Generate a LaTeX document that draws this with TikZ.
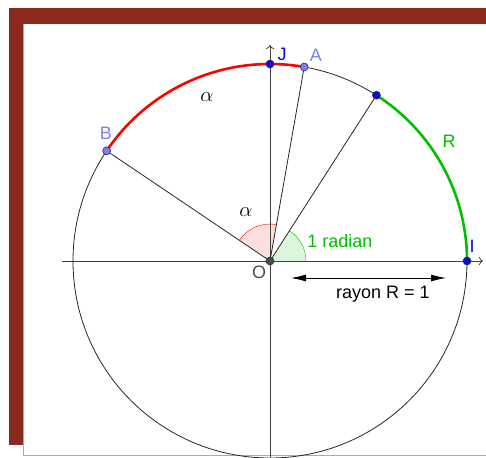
\documentclass[tikz,border=0pt]{standalone}
\usepackage{fontspec}
\setmainfont{Liberation Sans}
\usetikzlibrary{arrows.meta}
\definecolor{cadre}{RGB}{140,40,30}
\definecolor{bleupt}{RGB}{10,10,220}
\definecolor{bleuclair}{RGB}{125,125,250}
\definecolor{vert}{RGB}{0,190,0}

\begin{document}
\begin{tikzpicture}[x=1pt,y=1pt,
    pt/.style={circle,draw=black!80,line width=0.6pt,inner sep=0pt,minimum size=8pt},
    lbl/.style={font=\fontsize{18}{20}\selectfont},
    grec/.style={font=\fontsize{22}{24}\selectfont}]
    \useasboundingbox (-270,-196) rectangle (216,261);
    % cadre
    \fill[cadre] (-261,253) rectangle (216,237);
    \fill[cadre] (-261,253) rectangle (-246,-184);
    \draw[cadre!45,line width=1pt] (-246.5,237) -- (-246.5,-194.5) -- (216,-194.5);
    % points du cercle
    \coordinate (O) at (0,0);
    \coordinate (I) at (0:197);
    \coordinate (J) at (90:197);
    \coordinate (A) at (80:197);
    \coordinate (B) at (146:197);
    \coordinate (C) at ({deg(1)}:197);
    % secteurs des angles
    \fill[red!13] (O) -- (80:37) arc (80:146:37) -- cycle;
    \draw[red] (80:37) arc (80:146:37);
    \fill[vert!14] (O) -- (0:36) arc (0:{deg(1)}:36) -- cycle;
    \draw[vert] (0:36) arc (0:{deg(1)}:36);
    % axes
    \coordinate (xg) at (-208,0);
    \coordinate (xd) at (213,0);
    \coordinate (yb) at (0,-196);
    \coordinate (yh) at (0,216);
    \draw[black!75,line width=0.8pt,-{To[length=4pt,width=8pt]}] (xg) -- (xd);
    \draw[black!75,line width=0.8pt,-{To[length=4pt,width=8pt]}] (yb) -- (yh);
    % cercle et arcs
    \draw[black!85,line width=0.8pt] (O) circle (197);
    \draw[red,line width=2.6pt] (A) arc (80:146:197);
    \draw[vert,line width=2.6pt] (I) arc (0:{deg(1)}:197);
    % rayons
    \foreach \p in {A,B,C}
      \draw[black!85,line width=0.8pt] (O) -- (\p);
    % rayon R = 1
    \coordinate (r1) at (21,-17);
    \coordinate (r2) at (176,-17);
    \draw[line width=0.8pt,{Latex[length=15pt,width=7pt]}-{Latex[length=15pt,width=7pt]}] (r1) -- (r2);
    \node[lbl] (rayon) at (113,-33) {rayon R = 1};
    % points
    \node[pt,fill=black!70] (pO) at (O) {};
    \node[pt,fill=bleupt] (pI) at (I) {};
    \node[pt,fill=bleupt] (pJ) at (J) {};
    \node[pt,fill=bleupt] (pC) at (C) {};
    \node[pt,fill=bleuclair] (pA) at (A) {};
    \node[pt,fill=bleuclair] (pB) at (B) {};
    % noms
    \node[lbl,text=bleupt] (nJ) at (12,207) {J};
    \node[lbl,text=bleuclair] (nA) at (46,206) {A};
    \node[lbl,text=bleuclair] (nB) at (-164,128) {B};
    \node[lbl,text=bleupt] (nI) at (202,15) {I};
    \node[lbl,text=black!70] (nO) at (-11,-11) {O};
    \node[lbl,text=vert] (nR) at (179,120) {R};
    \node[lbl,text=vert] (rad) at (70,20) {1 radian};
    \node[grec] (al1) at (-63,164) {$\alpha$};
    \node[grec] (al2) at (-24,49) {$\alpha$};
\end{tikzpicture}
\end{document}
